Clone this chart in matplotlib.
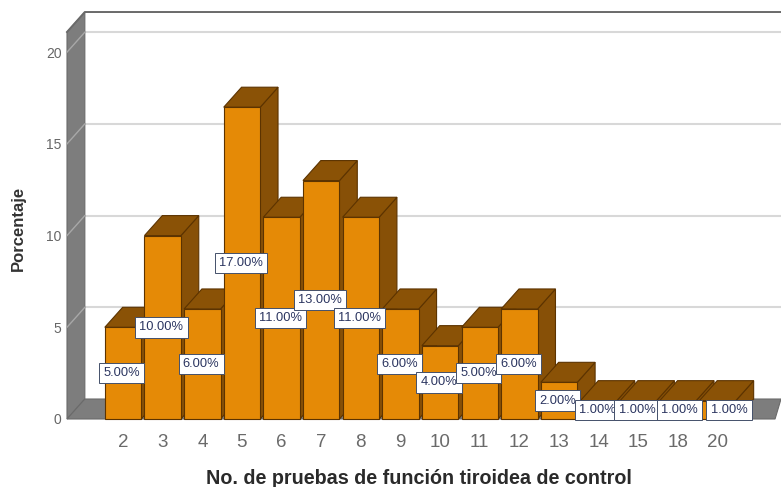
import matplotlib
matplotlib.use('Agg')
import matplotlib.pyplot as plt
from matplotlib.patches import Polygon

plt.rcParams['font.family'] = ['Liberation Sans', 'DejaVu Sans']

# Percentage of patients per number of thyroid function tests
categories = ['2', '3', '4', '5', '6', '7', '8', '9', '10', '11', '12', '13', '14', '15', '18', '20']
percentages = [5, 10, 6, 17, 11, 13, 11, 6, 4, 5, 6, 2, 1, 1, 1, 1]
y_ticks = [0, 5, 10, 15, 20]

FRONT = '#e58a06'
TOP = '#8a5206'
SIDE = '#875007'
EDGE = '#5c3300'
WALL = '#7d7d7d'
GRID = '#d8d8d8'

W, H = 781, 487
BAR_W = 0.92
DX = 0.45    # depth of the 3D effect, x units
DY = 1.09    # depth of the 3D effect, y units
X0, X1 = -1.414, 16.6
YTOP = 21.1


def face(ax, pts, color, edge=None, lw=0.8, z=2):
    ax.add_patch(Polygon(pts, closed=True, facecolor=color,
                         edgecolor=edge if edge else color, linewidth=lw,
                         zorder=z, clip_on=False, joinstyle='miter'))


def draw_walls(ax):
    # left wall and floor
    face(ax, [(X0, 0), (X0 + DX, DY), (X0 + DX, YTOP + DY), (X0, YTOP)], WALL, '#6a6a6a')
    face(ax, [(X0, 0), (X1 - 0.15, 0), (X1, DY), (X0 + DX, DY)], WALL, '#6a6a6a')
    # gridlines on the back wall and across the left wall
    for t in y_ticks[1:]:
        ax.plot([X0 + DX, X1], [t + DY, t + DY], color=GRID, lw=1.5, zorder=1, clip_on=False)
        ax.plot([X0, X0 + DX], [t, t + DY], color='#a8a8a8', lw=1, zorder=3, clip_on=False)
    # back wall outline
    ax.plot([X0, X0 + DX, X1], [YTOP, YTOP + DY, YTOP + DY], color='#6a6a6a', lw=1.4,
            zorder=3, clip_on=False)


def draw_bars(ax):
    for i, v in enumerate(percentages):
        l = i - BAR_W / 2
        r = i + BAR_W / 2
        z = 4 + i * 0.01
        face(ax, [(r, 0), (r + DX, DY), (r + DX, v + DY), (r, v)], SIDE, EDGE, z=z)
        face(ax, [(l, v), (r, v), (r + DX, v + DY), (l + DX, v + DY)], TOP, EDGE, z=z)
        face(ax, [(l, 0), (r, 0), (r, v), (l, v)], FRONT, EDGE, z=z)


def draw_labels(ax):
    # the last labels are pushed right so the boxes do not pile up
    shift = {len(percentages) - 2: 0.07, len(percentages) - 1: 0.32}
    for i, v in enumerate(percentages):
        ax.text(i - 0.03 + shift.get(i, 0), v / 2, f'{v:.2f}%', ha='center', va='center',
                fontsize=9.3, color='#2b3560', zorder=6 + i * 0.01,
                bbox=dict(boxstyle='square,pad=0.33', facecolor='white',
                          edgecolor='#44506a', linewidth=0.7))


def main():
    fig = plt.figure(figsize=(W / 100, H / 100), dpi=100, facecolor='white')
    ax = fig.add_axes([67 / W, (H - 419) / H, (781 - 67) / W, (419 - 32) / H])
    ax.set_xlim(X0, X1)
    ax.set_ylim(0, YTOP)
    ax.patch.set_visible(False)
    for s in ax.spines.values():
        s.set_visible(False)

    draw_walls(ax)
    draw_bars(ax)
    draw_labels(ax)

    ax.set_xticks(range(len(categories)))
    ax.set_xticklabels(categories, fontsize=13.5, color='#6a6a6a')
    ax.set_yticks(y_ticks)
    ax.set_yticklabels([str(t) for t in y_ticks], fontsize=10, color='#666666')
    ax.tick_params(axis='both', length=0)
    ax.tick_params(axis='x', pad=10.5)
    ax.tick_params(axis='y', pad=4)

    fig.text(419 / W, (H - 478) / H, 'No. de pruebas de función tiroidea de control',
             ha='center', va='center', fontsize=14.2, fontweight='bold', color='#2a2a2a')
    fig.text(18 / W, (H - 228) / H, 'Porcentaje', rotation=90, ha='center', va='center',
             fontsize=12, fontweight='bold', color='#333333')

    fig.savefig('out.png', dpi=100)


if __name__ == "__main__":
    main()
